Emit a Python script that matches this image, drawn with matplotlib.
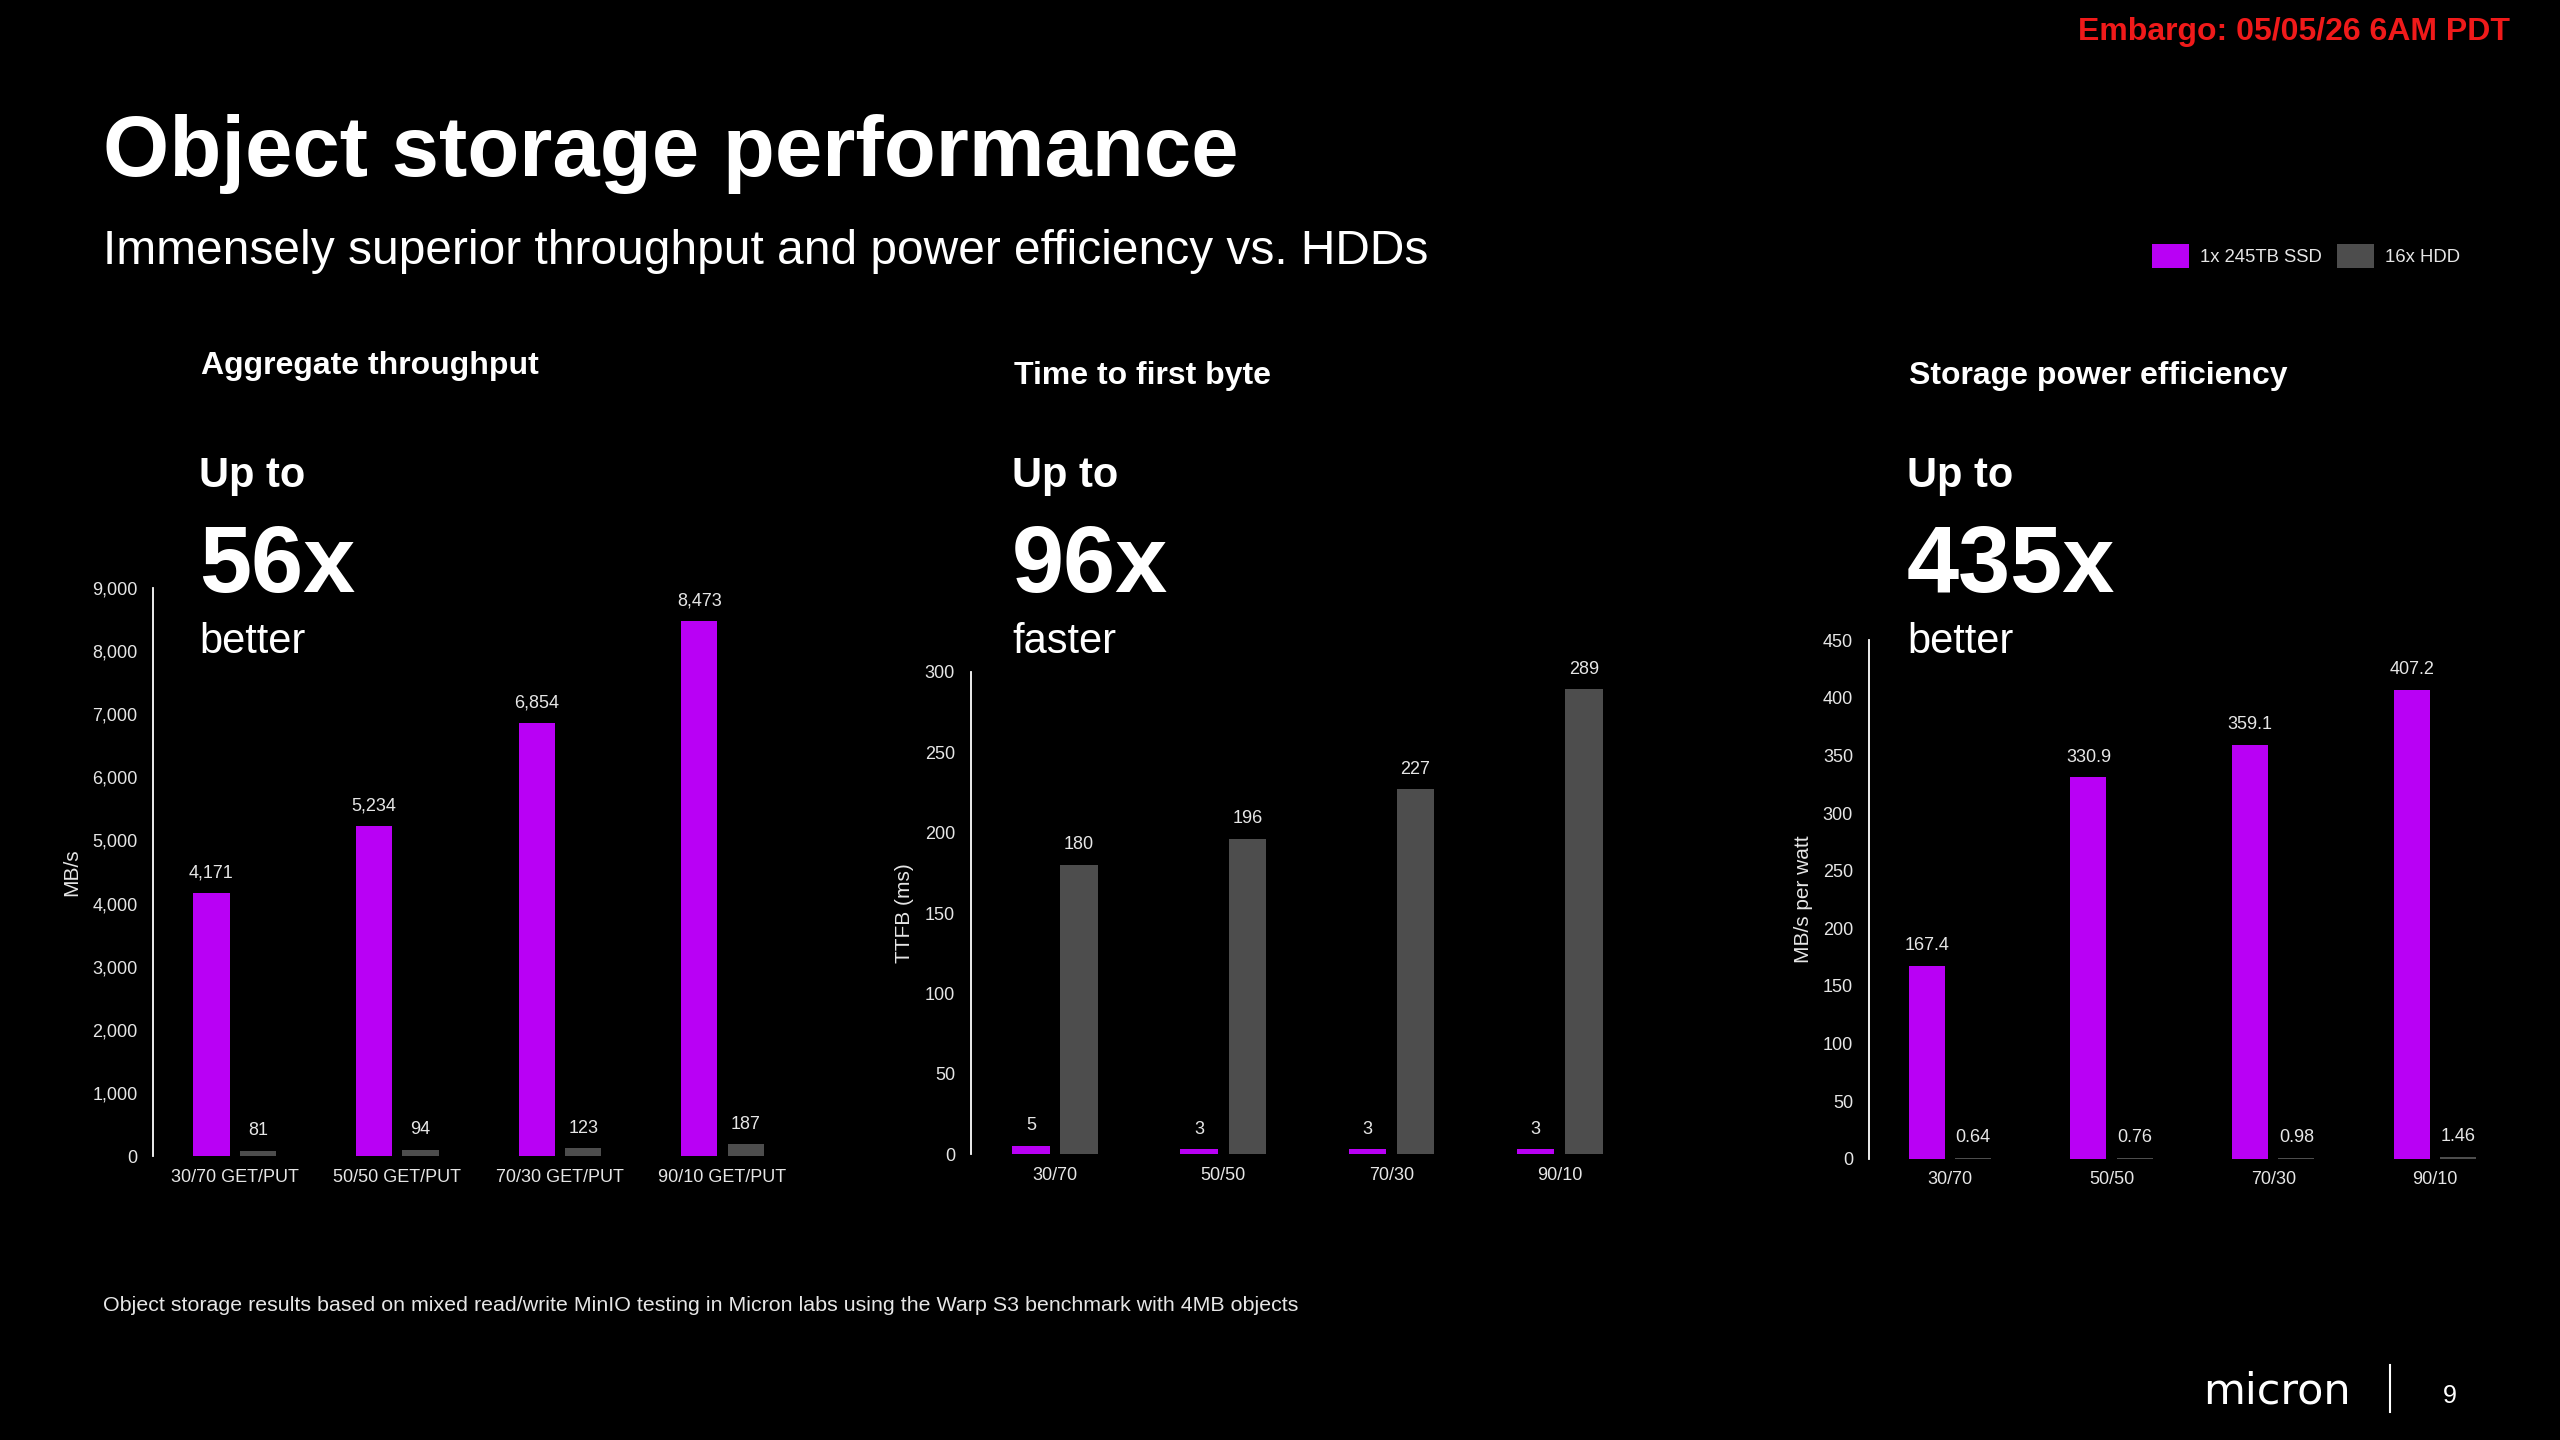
import matplotlib
matplotlib.use("Agg")
import matplotlib.pyplot as plt
from matplotlib.lines import Line2D
from matplotlib.ticker import FuncFormatter, MultipleLocator

# ---- data ----
mixes_getput = ["30/70 GET/PUT", "50/50 GET/PUT", "70/30 GET/PUT", "90/10 GET/PUT"]
mixes = ["30/70", "50/50", "70/30", "90/10"]
series_names = ["1x 245TB SSD", "16x HDD"]

ssd_throughput = [4171, 5234, 6854, 8473]      # MB/s
hdd_throughput = [81, 94, 123, 187]

ssd_ttfb = [5, 3, 3, 3]                         # ms
hdd_ttfb = [180, 196, 227, 289]

ssd_efficiency = [167.4, 330.9, 359.1, 407.2]   # MB/s per watt
hdd_efficiency = [0.64, 0.76, 0.98, 1.46]

panel_titles = ["Aggregate throughput", "Time to first byte", "Storage power efficiency"]
panel_factors = ["56x", "96x", "435x"]
panel_words = ["better", "faster", "better"]

# ---- style ----
SSD_COLOR = "#B900F5"
HDD_COLOR = "#4D4D4D"
TEXT = "#FFFFFF"
SOFT = "#E6E6E6"
W, H = 2560, 1440

plt.rcParams["font.family"] = ["Liberation Sans", "DejaVu Sans"]

fig = plt.figure(figsize=(25.6, 14.4), dpi=100, facecolor="black")


def fx(px):
    return px / W


def fy(py):
    return 1 - py / H


bar_w = 0.223
offset = 0.143


def draw_panel(rect, cats, ssd, hdd, ymax, ystep, ylabel, label_x, tick_fmt, val_fmt):
    ax = fig.add_axes(rect)
    ax.set_facecolor("black")
    x = list(range(len(cats)))
    b1 = ax.bar([i - offset for i in x], ssd, width=bar_w, color=SSD_COLOR, label=series_names[0])
    b2 = ax.bar([i + offset for i in x], hdd, width=bar_w, color=HDD_COLOR, label=series_names[1])
    ax.bar_label(b1, labels=[val_fmt(v) for v in ssd], padding=8.4, fontsize=13, color=SOFT)
    ax.bar_label(b2, labels=[val_fmt(v) for v in hdd], padding=8.4, fontsize=13, color=SOFT)

    ax.set_xlim(-0.5, len(cats) - 0.5)
    ax.set_ylim(0, ymax)
    ax.set_xticks(x)
    ax.set_xticklabels(cats)
    ax.yaxis.set_major_locator(MultipleLocator(ystep))
    ax.yaxis.set_major_formatter(FuncFormatter(tick_fmt))

    for side in ["top", "right", "bottom"]:
        ax.spines[side].set_visible(False)
    ax.spines["left"].set_color(TEXT)
    ax.spines["left"].set_linewidth(1.3)

    ax.tick_params(axis="both", length=0, colors=SOFT, labelsize=13)
    ax.tick_params(axis="y", pad=11.5)
    ax.tick_params(axis="x", pad=9)

    ax.set_ylabel(ylabel, fontsize=15, color=SOFT)
    ax.yaxis.set_label_coords(label_x, 0.5)
    return b1, b2


bars = draw_panel([fx(153.4), 0.19722, fx(650.4), 0.39444], mixes_getput,
                  ssd_throughput, hdd_throughput, 9000, 1000, "MB/s", -0.111,
                  lambda v, p: f"{v:,.0f}", lambda v: f"{v:,.0f}")
draw_panel([fx(971), 0.19847, fx(672.8), 0.33500], mixes,
           ssd_ttfb, hdd_ttfb, 300, 50, "TTFB (ms)", -0.0847,
           lambda v, p: f"{v:.0f}", lambda v: f"{v:.0f}")
draw_panel([fx(1869), 0.19535, fx(646.8), 0.36007], mixes,
           ssd_efficiency, hdd_efficiency, 450, 50, "MB/s per watt", -0.0866,
           lambda v, p: f"{v:.0f}", lambda v: f"{v:g}")

# ---- panel headlines ----
head_x = [199, 1012, 1907]
title_base = [374, 384, 384]
for i in range(3):
    fig.text(fx(head_x[i] + 2), fy(title_base[i]), panel_titles[i], fontsize=23,
             weight="bold", color=TEXT, va="baseline")
    fig.text(fx(head_x[i]), fy(487), "Up to", fontsize=30, weight="bold", color=TEXT, va="baseline")
    fig.text(fx(head_x[i]), fy(592), panel_factors[i], fontsize=67.5, weight="bold", color=TEXT, va="baseline")
    fig.text(fx(head_x[i]), fy(653), panel_words[i], fontsize=30, color=TEXT, va="baseline")

# ---- slide texts ----
fig.text(fx(103), fy(176), "Object storage performance", fontsize=61.3, weight="bold",
         color=TEXT, va="baseline")
fig.text(fx(103), fy(264), "Immensely superior throughput and power efficiency vs. HDDs",
         fontsize=34.5, color=TEXT, va="baseline")
fig.text(fx(2510), fy(40), "Embargo: 05/05/26 6AM PDT", fontsize=23, weight="bold",
         color="#F01A1A", ha="right", va="baseline")
fig.text(fx(103), fy(1311),
         "Object storage results based on mixed read/write MinIO testing in Micron labs "
         "using the Warp S3 benchmark with 4MB objects",
         fontsize=15.4, color=SOFT, va="baseline")

fig.legend(handles=list(bars), labels=series_names, loc="center left",
           bbox_to_anchor=(fx(2151.7), fy(256)), frameon=False, ncol=2,
           fontsize=13.3, handlelength=2.0, handleheight=1.55, handletextpad=0.6,
           columnspacing=0.85, borderpad=0, borderaxespad=0, labelcolor=SOFT)

# ---- footer logo + page number ----
fig.text(fx(2203), fy(1403), "micron", fontsize=31, color=TEXT, va="baseline",
         family="DejaVu Sans")
fig.add_artist(Line2D([fx(2390), fx(2390)], [fy(1365), fy(1412)],
                      transform=fig.transFigure, color=TEXT, lw=1.5))
fig.text(fx(2443), fy(1403), "9", fontsize=18, color=TEXT, va="baseline")

fig.savefig("out.png", dpi=100, facecolor="black")
